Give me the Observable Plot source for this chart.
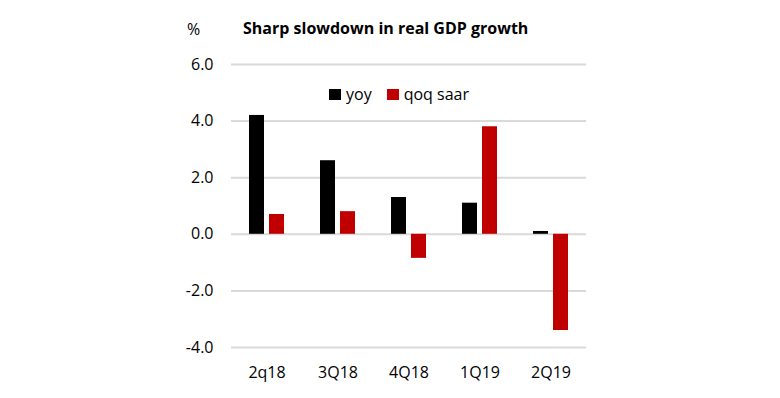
<!DOCTYPE html>
<html>
<head>
<meta charset="utf-8">
<script src="https://cdn.jsdelivr.net/npm/d3@7"></script>
<script src="https://cdn.jsdelivr.net/npm/@observablehq/plot@0.6"></script>
<style>
  html, body { margin: 0; padding: 0; background: #fff; }
  #wrap { position: relative; width: 780px; height: 398px; font-family: "Open Sans", sans-serif; color: #000; }
  #pct { position: absolute; left: 187px; top: 18px; font-size: 16px; }
  #title { position: absolute; left: 243px; top: 17px; font-size: 16px; font-weight: bold; }
  #legend { position: absolute; left: 329px; top: 83px; display: flex; align-items: center; font-size: 16px; }
  #legend .sw { width: 12px; height: 11px; display: inline-block; margin-right: 5px; }
  #legend .item { display: flex; align-items: center; margin-right: 15px; }
  #chart { position: absolute; left: 0; top: 0; }
</style>
</head>
<body>
<div id="wrap">
  <div id="chart"></div>
  <div id="pct">%</div>
  <div id="title">Sharp slowdown in real GDP growth</div>
  <div id="legend"></div>
</div>
<script>
const quarters = ["2q18", "3Q18", "4Q18", "1Q19", "2Q19"];
const yoy = [4.2, 2.6, 1.3, 1.1, 0.1];
const qoqSaar = [0.7, 0.8, -0.85, 3.8, -3.4];
const seriesNames = ["yoy", "qoq saar"];
const seriesColors = ["#000000", "#c00000"];
const yTicks = [-4, -2, 0, 2, 4, 6];

const data = quarters.flatMap((q, i) => [
  {quarter: q, series: seriesNames[0], value: yoy[i]},
  {quarter: q, series: seriesNames[1], value: qoqSaar[i]}
]);

const chart = Plot.plot({
  width: 780,
  height: 398,
  marginLeft: 229,
  marginRight: 193,
  marginTop: 64,
  marginBottom: 51,
  style: {fontFamily: "Open Sans, sans-serif", fontSize: "16px", color: "#000", background: "transparent"},
  fx: {domain: quarters, padding: 0, label: null, axis: "bottom", tickSize: 0, tickPadding: 19},
  x: {domain: seriesNames, paddingInner: 0.238, paddingOuter: 0.824, axis: null},
  y: {domain: [-4, 6], ticks: yTicks, tickFormat: d => d.toFixed(1), label: null, tickSize: 0, tickPadding: 18},
  color: {domain: seriesNames, range: seriesColors},
  marks: [
    Plot.ruleY(yTicks, {stroke: "#d9d9d9", strokeWidth: 2}),
    Plot.barY(data, {fx: "quarter", x: "series", y: "value", fill: "series"})
  ]
});
document.getElementById("chart").appendChild(chart);

const legend = document.getElementById("legend");
seriesNames.forEach((name, i) => {
  const item = document.createElement("span");
  item.className = "item";
  const sw = document.createElement("span");
  sw.className = "sw";
  sw.style.background = seriesColors[i];
  item.appendChild(sw);
  item.appendChild(document.createTextNode(name));
  legend.appendChild(item);
});
</script>
</body>
</html>
